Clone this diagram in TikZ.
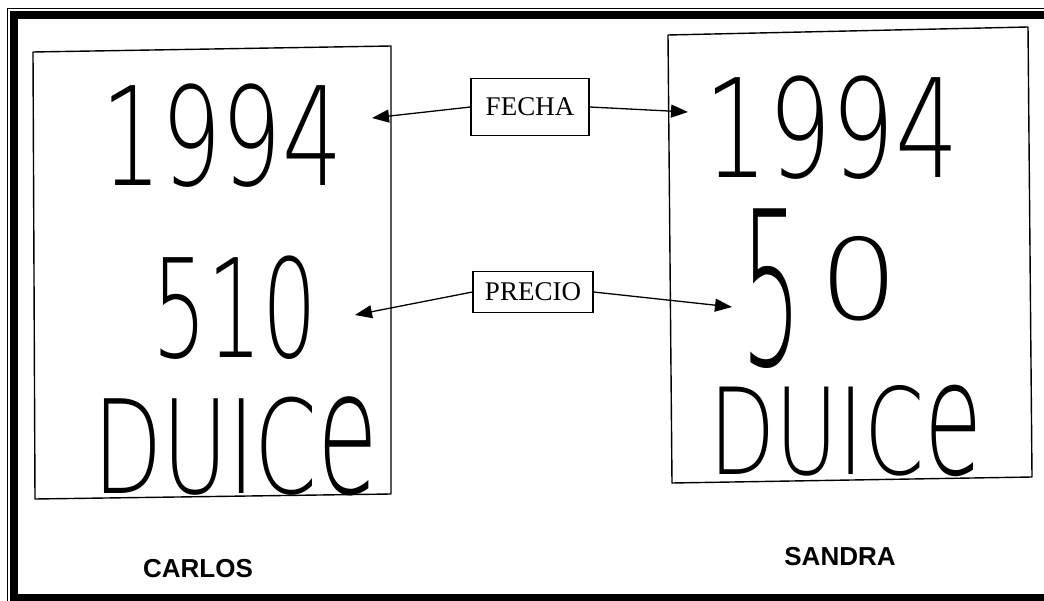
\documentclass[tikz,border=0pt]{standalone}
\usepackage{fontspec,graphicx}
\usetikzlibrary{arrows.meta}
\setmainfont{Liberation Serif}
\IfFontExistsTF{DejaVuSans-ExtraLight.ttf}
  {\newfontfamily\scrawlfont{DejaVuSans-ExtraLight.ttf}}
  {\newfontfamily\scrawlfont{DejaVu Sans}}
\newfontfamily\namefont{Liberation Sans}
\newcommand{\tallE}{\scalebox{1.1}[1.33]{e}}

\begin{document}
\begin{tikzpicture}[x=1pt, y=-1pt,
        sheet/.style={line width=1.4pt, line join=round},
        fieldbox/.style={draw, line width=1.2pt, inner sep=0pt, font=\fontsize{27}{27}\selectfont},
        scrawl/.style={inner sep=0pt, font=\scrawlfont\fontsize{100}{100}\selectfont},
        kid/.style={font=\namefont\bfseries\fontsize{26}{26}\selectfont},
        pointer/.style={line width=1.3pt, -{Triangle[length=17pt,width=13pt]}}]
    \useasboundingbox (0,0) rectangle (1044,601);
    \clip (0,0) rectangle (1044,601);
    % frame
    \draw[line width=1pt] (7.5,8.5) rectangle (1060,620);
    \draw[line width=8pt] (14,15.5) rectangle (1060,598);
    % the two sheets
    \draw[sheet] (33,52) -- (391,46) -- (391,494) -- (35,499) -- cycle;
    \draw[sheet] (668,35) -- (1028,27) -- (1032,477) -- (672,483) -- cycle;
    % Carlos
    \node[scrawl] (yearC) at (222,136) {\scalebox{0.95}[1.37]{1994}};
    \node[scrawl] (costC) at (235,308) {\scalebox{0.86}[1.37]{510}};
    \node[scrawl] (wordC) at (236,446) {\scalebox{0.9}[1.3]{DUIC\tallE}};
    \node[kid] (carlos) at (198,569) {CARLOS};
    % Sandra
    \node[scrawl] (yearS) at (832,128) {\scalebox{1.0}[1.37]{1994}};
    \node[scrawl] (costS) at (820,289) {\scalebox{0.95}[2.15]{5}\hspace{18pt}\raisebox{46pt}{\scalebox{1.25}[1.12]{0}}};
    \node[scrawl] (wordS) at (846,431) {\scalebox{0.86}[1.2]{DUIC\tallE}};
    \node[kid] (sandra) at (840,557) {SANDRA};
    % what is compared
    \node[fieldbox, minimum width=118pt, minimum height=57pt] (date) at (530,107) {FECHA};
    \node[fieldbox, minimum width=120pt, minimum height=41pt] (price) at (533,292) {PRECIO};
    \coordinate (dateC) at (372,118);
    \coordinate (dateS) at (688,112);
    \coordinate (priceC) at (355,315);
    \coordinate (priceS) at (732,307);
    \draw[pointer] (date.west) -- (dateC);
    \draw[pointer] (date.east) -- (dateS);
    \draw[pointer] (price.west) -- (priceC);
    \draw[pointer] (price.east) -- (priceS);
\end{tikzpicture}
\end{document}
